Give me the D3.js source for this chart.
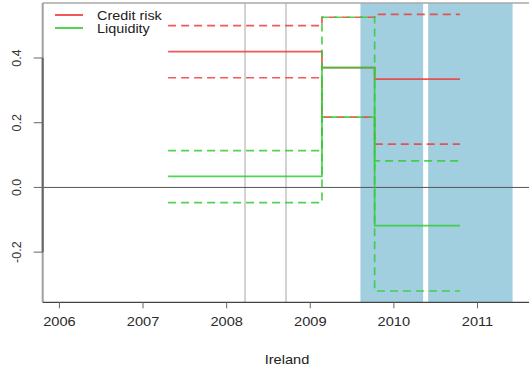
<!DOCTYPE html>
<html>
<head>
<meta charset="utf-8">
<script src="https://cdn.jsdelivr.net/npm/d3@7"></script>
<style>
  html, body { margin: 0; padding: 0; background: #fff; }
  svg { display: block; font-family: "Liberation Sans", Arial, sans-serif; }
</style>
</head>
<body>
<svg id="chart" width="529" height="373"></svg>
<script>
// Regime break dates (decimal years) for the step estimates
const stepDates = [2007.30, 2009.14, 2009.77, 2010.79];

// Credit risk coefficient: estimate and confidence band per regime
const creditEst   = [0.420, 0.370, 0.335];
const creditUpper = [0.500, 0.526, 0.535];
const creditLower = [0.339, 0.217, 0.134];

// Liquidity coefficient: estimate and confidence band per regime
const liqEst   = [0.034, 0.370, -0.118];
const liqUpper = [0.114, 0.526, 0.082];
const liqLower = [-0.047, 0.217, -0.320];

// Shaded periods and event markers
const shadedStart = [2009.60, 2010.41];
const shadedEnd   = [2010.35, 2011.42];
const eventDates  = [2008.22, 2008.71];

// Axis ticks and labels
const xTicks = [2006, 2007, 2008, 2009, 2010, 2011];
const yTicks = [-0.2, 0.0, 0.2, 0.4];
const yTickLabels = ["-0.2", "0.0", "0.2", "0.4"];
const seriesNames = ["Credit risk", "Liquidity"];
const xTitle = "Ireland";

const colRed = "#ee3b3b";
const colGreen = "#33cc33";

// horizontal text is drawn slightly widened
const wide = 1.17;

const svg = d3.select("#chart");
const pLeft = 42.7, pRight = 531, pTop = 3, pBottom = 302.3;

const x = d3.scaleLinear().domain([2005.80, 2011.64]).range([pLeft, pRight]);
const y = d3.scaleLinear().domain([-0.355, 0.570]).range([pBottom, pTop]);

// shaded periods
svg.append("g").selectAll("rect")
  .data(d3.zip(shadedStart, shadedEnd))
  .join("rect")
  .attr("x", d => x(d[0]))
  .attr("width", d => x(d[1]) - x(d[0]))
  .attr("y", pTop)
  .attr("height", pBottom - pTop)
  .attr("fill", "#a2cfe0");

// event lines
svg.append("g").selectAll("line")
  .data(eventDates)
  .join("line")
  .attr("x1", d => x(d)).attr("x2", d => x(d))
  .attr("y1", pTop).attr("y2", pBottom)
  .attr("stroke", "#c4c4c4").attr("stroke-width", 1.5);

// zero line
svg.append("line")
  .attr("x1", pLeft).attr("x2", 529)
  .attr("y1", y(0)).attr("y2", y(0))
  .attr("stroke", "#555").attr("stroke-width", 1);

// step series
const stepLine = d3.line()
  .x(d => x(d[0]))
  .y(d => y(d[1]))
  .curve(d3.curveStepAfter);

function stepPoints(vals) {
  const pts = vals.map((v, i) => [stepDates[i], v]);
  pts.push([stepDates[stepDates.length - 1], vals[vals.length - 1]]);
  return pts;
}

const series = [
  { vals: creditUpper, color: colRed, dash: "8,5" },
  { vals: creditLower, color: colRed, dash: "8,5" },
  { vals: creditEst, color: colRed, dash: null },
  { vals: liqUpper, color: colGreen, dash: "8,5" },
  { vals: liqLower, color: colGreen, dash: "8,5" },
  { vals: liqEst, color: colGreen, dash: null }
];

svg.append("g").selectAll("path")
  .data(series)
  .join("path")
  .attr("d", d => stepLine(stepPoints(d.vals)))
  .attr("fill", "none")
  .attr("stroke", d => d.color)
  .attr("stroke-opacity", 0.85)
  .attr("stroke-width", 1.7)
  .attr("stroke-dasharray", d => d.dash);

// plot box (left and top visible)
svg.append("line")
  .attr("x1", pLeft).attr("x2", 529).attr("y1", pTop).attr("y2", pTop)
  .attr("stroke", "#a8a8a8").attr("stroke-width", 1.5);
svg.append("line")
  .attr("x1", pLeft).attr("x2", pLeft).attr("y1", pTop).attr("y2", pBottom)
  .attr("stroke", "#a0a0a0").attr("stroke-width", 2);

// y axis
const yAxis = svg.append("g");
yAxis.append("line")
  .attr("x1", pLeft).attr("x2", pLeft)
  .attr("y1", y(yTicks[yTicks.length - 1])).attr("y2", y(yTicks[0]))
  .attr("stroke", "#666").attr("stroke-width", 2);
yAxis.selectAll(".tk").data(yTicks).join("line")
  .attr("x1", pLeft - 9).attr("x2", pLeft)
  .attr("y1", d => y(d)).attr("y2", d => y(d))
  .attr("stroke", "#666").attr("stroke-width", 1);
yAxis.selectAll("text").data(yTicks).join("text")
  .attr("transform", d => `translate(21,${y(d)}) rotate(-90)`)
  .attr("text-anchor", "middle")
  .attr("font-size", 12.5)
  .attr("fill", "#333")
  .text((d, i) => yTickLabels[i]);

// x axis
const xAxis = svg.append("g");
xAxis.append("line")
  .attr("x1", pLeft).attr("x2", 529).attr("y1", pBottom).attr("y2", pBottom)
  .attr("stroke", "#444").attr("stroke-width", 1.2);
xAxis.selectAll(".tk").data(xTicks).join("line")
  .attr("x1", d => x(d)).attr("x2", d => x(d))
  .attr("y1", pBottom).attr("y2", pBottom + 6)
  .attr("stroke", "#666").attr("stroke-width", 1);
xAxis.selectAll("text").data(xTicks).join("text")
  .attr("transform", d => `translate(${x(d)},326) scale(${wide},1)`)
  .attr("text-anchor", "middle")
  .attr("font-size", 12.5)
  .attr("fill", "#2a2a2a")
  .text(d => d);

svg.append("text")
  .attr("transform", `translate(287,363.5) scale(${wide},1)`)
  .attr("text-anchor", "middle")
  .attr("font-size", 12.5)
  .attr("fill", "#222")
  .text(xTitle);

// legend
const legend = svg.append("g");
[colRed, colGreen].forEach((c, i) => {
  legend.append("line")
    .attr("x1", 55).attr("x2", 83)
    .attr("y1", 15 + i * 13).attr("y2", 15 + i * 13)
    .attr("stroke", c).attr("stroke-width", 1.7);
  legend.append("text")
    .attr("transform", `translate(97,${19.5 + i * 13}) scale(1.2,1)`)
    .attr("font-size", 12)
    .attr("fill", "#222")
    .text(seriesNames[i]);
});
</script>
</body>
</html>
